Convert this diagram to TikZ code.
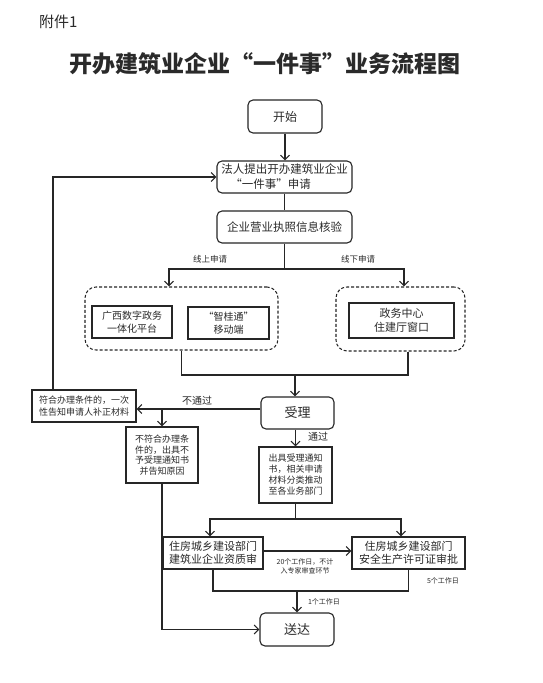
\documentclass[tikz,border=0pt]{standalone}
\usepackage{fontspec}
\setmainfont{Noto Sans CJK SC}
\usetikzlibrary{arrows.meta}
\definecolor{linec}{HTML}{262626}
\definecolor{txtc}{HTML}{2A2A2A}
\newcommand\fsz[2]{\fontsize{#1pt}{#2pt}\selectfont}
\begin{document}
\begin{tikzpicture}[x=1pt,y=-1pt,
  every node/.style={text=txtc},
  box/.style={draw=linec, line width=1.1pt, inner sep=0pt, align=center},
  rbox/.style={box, rounded corners=5pt},
  dbox/.style={draw=linec, line width=1.05pt, dash pattern=on 3pt off 2pt, rounded corners=11pt, inner sep=0pt},
  ln/.style={draw=linec, line width=1.1pt},
  arr/.style={ln, -{Straight Barb[length=4.5pt,width=9pt,line width=1.1pt]}},
  lbl/.style={inner sep=0pt, align=center}]
\useasboundingbox (0,0) rectangle (542,683);
\fill[white] (0,0) rectangle (542,683);

\node[lbl, anchor=west, font=\fsz{15}{18}] (fj) at (39,22) {附件1};
\node[lbl, font=\fsz{23}{28}\bfseries] (title) at (264.5,64) {开办建筑业企业“一件事”业务流程图};

\node[rbox, minimum width=74pt, minimum height=33pt, font=\fsz{12}{14}] (start) at (285,116.5) {开始};
\node[rbox, minimum width=135pt, minimum height=32pt, font=\fsz{11.5}{15}] (apply) at (284.5,177) {法人提出开办建筑业企业\\“一件事”申请\kern28pt};
\node[rbox, minimum width=135pt, minimum height=32pt, font=\fsz{11.5}{14}] (verify) at (284.5,227) {企业营业执照信息核验};

\node[dbox, minimum width=193pt, minimum height=63pt] (online) at (181.5,318.5) {};
\node[box, minimum width=80pt, minimum height=32pt, font=\fsz{10}{13}] (gx) at (132,322) {广西数字政务\\一体化平台};
\node[box, minimum width=81pt, minimum height=32pt, font=\fsz{10}{13}] (zgt) at (228.5,323) {“智桂通”\\移动端};
\node[dbox, minimum width=129pt, minimum height=64pt] (offline) at (400.5,319) {};
\node[box, minimum width=105pt, minimum height=35pt, font=\fsz{11}{14}] (zwzx) at (401.5,320.5) {政务中心\\住建厅窗口};

\node[rbox, minimum width=73pt, minimum height=32pt, font=\fsz{13}{15}] (shouli) at (297.5,413) {受理};
\node[box, minimum width=104pt, minimum height=32pt, font=\fsz{9}{12.5}] (fuhe) at (84,406) {符合办理条件的，一次\\性告知申请人补正材料};
\node[box, minimum width=72pt, minimum height=56pt, font=\fsz{9}{10.5}] (bufuhe) at (162,455) {不符合办理条\\件的，出具不\\予受理通知书\\并告知原因};
\node[box, minimum width=73pt, minimum height=56pt, font=\fsz{9}{11}] (chuju) at (295.5,475) {出具受理通知\\书，相关申请\\材料分类推动\\至各业务部门};

\node[box, minimum width=100pt, minimum height=32pt, font=\fsz{11}{13.5}] (qual) at (213,553) {住房城乡建设部门\\建筑业企业资质审};
\node[box, minimum width=113pt, minimum height=32pt, font=\fsz{11}{13.5}] (safe) at (408.5,553) {住房城乡建设部门\\安全生产许可证审批};
\node[rbox, minimum width=74pt, minimum height=33pt, font=\fsz{13}{15}] (songda) at (297,629.5) {送达};

% labels
\node[lbl, font=\fsz{8.5}{10}] (lon) at (210,259) {线上申请};
\node[lbl, font=\fsz{8.5}{10}] (loff) at (358,259) {线下申请};
\node[lbl, font=\fsz{10}{12}] (lno) at (197,401) {不通过};
\node[lbl, font=\fsz{10}{12}] (lyes) at (318,437) {通过};
\node[lbl, font=\fsz{7}{9}] (l20) at (305,566.5) {20个工作日，不计\\入专家审查环节};
\node[lbl, font=\fsz{7}{9}] (l5) at (443,581) {5个工作日};
\node[lbl, font=\fsz{7}{9}] (l1) at (324,602) {1个工作日};

% connectors
\draw[arr] (start.south) -- (start.south |- apply.north);
\draw[ln] (apply.south) -- (verify.north);
\coordinate (s1) at (284.5,269);
\draw[ln] (verify.south) -- (s1);
\draw[arr] (s1) -| ([xshift=-12.5pt]online.north);
\draw[arr] (s1) -| ([xshift=3.5pt]offline.north);

\coordinate (m1) at (295,375);
\draw[ln] (online.south) |- (m1);
\draw[ln] ([xshift=7.5pt]offline.south) |- (m1);
\draw[arr] (m1) -- (m1 |- shouli.north);

\draw[arr] ([yshift=4pt]shouli.west) coordinate (p1) -- (p1 -| fuhe.east);
\draw[arr] (p1 -| bufuhe.north) -- (bufuhe.north);
\draw[arr] ([xshift=-31pt]fuhe.north) |- (apply.west);
\draw[arr] (chuju.north |- shouli.south) -- (chuju.north);

\coordinate (s2) at (295.5,519);
\draw[ln] (chuju.south) -- (s2);
\draw[arr] (s2) -| ([xshift=-3pt]qual.north);
\draw[arr] (s2) -| ([xshift=-7.5pt]safe.north);
\draw[arr] ([yshift=2pt]qual.east) -- ([yshift=2pt]safe.west);

\coordinate (m2) at (297,591);
\draw[ln] (qual.south) |- (m2);
\draw[ln] (safe.south) |- (m2);
\draw[arr] (m2) -- (m2 |- songda.north);
\draw[arr] (bufuhe.south) |- (songda.west);
\end{tikzpicture}
\end{document}
